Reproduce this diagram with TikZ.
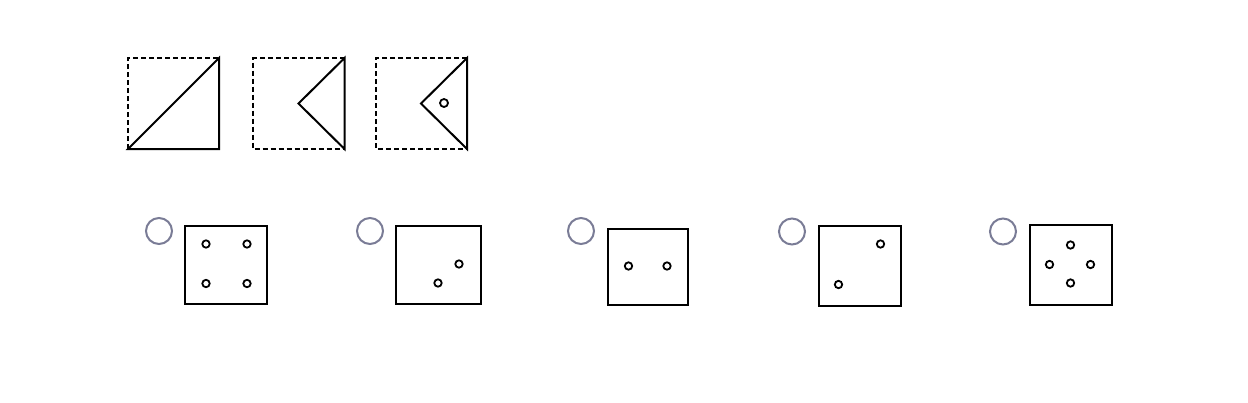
\documentclass[tikz,border=0pt]{standalone}
\usetikzlibrary{positioning}

\tikzset{
  solidline/.style={line width=2pt, line join=miter},
  dashline/.style={line width=2pt, dash pattern=on 5pt off 3pt},
  hole/.style={line width=1.8pt},
  radio/.style={line width=2pt, draw=radiogray},
}
\definecolor{radiogray}{RGB}{122,124,150}

\begin{document}
\begin{tikzpicture}[x=1pt, y=-1pt]
    \useasboundingbox (0,0) rectangle (1248,402);
    % question row
    \coordinate (q1a) at (128,58);
    \coordinate (q1b) at (219,58);
    \coordinate (q1c) at (219,149);
    \coordinate (q1d) at (128,149);
    \draw[dashline] (q1d) -- (q1a) -- (q1b);
    \draw[solidline] (q1b) -- (q1c) -- (q1d) -- cycle;

    \coordinate (q2a) at (253,58);
    \coordinate (q2b) at (344.5,58);
    \coordinate (q2c) at (344.5,149);
    \coordinate (q2d) at (253,149);
    \coordinate (q2e) at (298.5,103.5);
    \draw[dashline] (q2b) -- (q2a) -- (q2d) -- (q2c);
    \draw[solidline] (q2b) -- (q2c) -- (q2e) -- cycle;

    \coordinate (q3a) at (376,58);
    \coordinate (q3b) at (467,58);
    \coordinate (q3c) at (467,149);
    \coordinate (q3d) at (376,149);
    \coordinate (q3e) at (421,103.5);
    \draw[dashline] (q3b) -- (q3a) -- (q3d) -- (q3c);
    \draw[solidline] (q3b) -- (q3c) -- (q3e) -- cycle;
    \draw[hole] (444,103) circle (4);

    % answer row
    \draw[radio] (159,231) circle (13);
    \draw[solidline] (185,226) rectangle (267,304);
    \draw[hole] (206,244) circle (3.7);
    \draw[hole] (247,244) circle (3.7);
    \draw[hole] (206,283.5) circle (3.7);
    \draw[hole] (247,283.5) circle (3.7);

    \draw[radio] (370,231) circle (13);
    \draw[solidline] (396,225.5) rectangle (481,304);
    \draw[hole] (459,264) circle (3.7);
    \draw[hole] (438,283) circle (3.7);

    \draw[radio] (581,231) circle (13);
    \draw[solidline] (608,228.5) rectangle (688,304.5);
    \draw[hole] (628.5,266) circle (3.7);
    \draw[hole] (667,266) circle (3.7);

    \draw[radio] (792,231.5) circle (13);
    \draw[solidline] (819,225.5) rectangle (901,306);
    \draw[hole] (880.5,244) circle (3.7);
    \draw[hole] (838.5,284.5) circle (3.7);

    \draw[radio] (1003,231.5) circle (13);
    \draw[solidline] (1030,225) rectangle (1112,304.5);
    \draw[hole] (1070.5,245) circle (3.7);
    \draw[hole] (1049.5,264.5) circle (3.7);
    \draw[hole] (1090.5,264.5) circle (3.7);
    \draw[hole] (1070.5,283) circle (3.7);
\end{tikzpicture}
\end{document}
